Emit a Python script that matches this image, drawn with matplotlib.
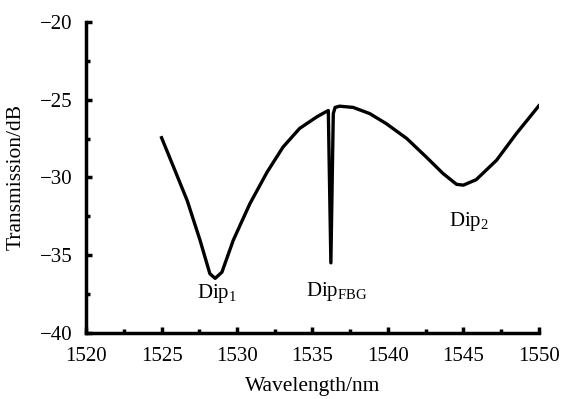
import numpy as np
import matplotlib
matplotlib.use("Agg")
import matplotlib.pyplot as plt
from matplotlib.ticker import MultipleLocator

# measured transmission spectrum
wavelength = [1525.0, 1525.8, 1526.7, 1527.55, 1528.2, 1528.55, 1529.0, 1529.75,
              1530.85, 1532.0, 1533.05, 1534.15, 1535.3, 1535.85, 1536.05,
              1536.22, 1536.38, 1536.5, 1536.8, 1537.7, 1538.8, 1539.9,
              1541.25, 1542.55, 1543.65, 1544.55, 1545.0, 1545.85, 1547.2,
              1548.5, 1550.0]
transmission = [-27.45, -29.35, -31.5, -34.05, -36.2, -36.5, -36.1, -34.05,
                -31.7, -29.65, -28.05, -26.85, -26.1, -25.8, -25.7,
                -35.5, -25.9, -25.5, -25.42, -25.5, -25.9, -26.55,
                -27.5, -28.7, -29.75, -30.45, -30.5, -30.15, -28.9,
                -27.2, -25.4]

dip_labels = ["Dip$_1$", "Dip$_{\\rm FBG}$", "Dip$_2$"]
dip_x = [1528.7, 1536.6, 1545.4]
dip_y = [-37.45, -37.35, -32.85]

plt.rcParams["font.family"] = ["Liberation Serif", "DejaVu Serif"]
plt.rcParams["mathtext.fontset"] = "custom"
plt.rcParams["mathtext.rm"] = "Liberation Serif"
plt.rcParams["mathtext.it"] = "Liberation Serif"

fig = plt.figure(figsize=(5.63, 3.99), dpi=100)
ax = fig.add_axes([0.153, 0.166, 0.804, 0.779])

ax.plot(wavelength, transmission, color="black", lw=2.4, solid_joinstyle="round")

for lab, x, y in zip(dip_labels, dip_x, dip_y):
    ax.text(x, y, lab, ha="center", va="center", fontsize=15)

ax.set_xlim(1520, 1550)
ax.set_ylim(-40, -20)
ax.xaxis.set_major_locator(MultipleLocator(5))
ax.xaxis.set_minor_locator(MultipleLocator(2.5))
ax.yaxis.set_major_locator(MultipleLocator(5))
ax.yaxis.set_minor_locator(MultipleLocator(2.5))

ax.spines["top"].set_visible(False)
ax.spines["right"].set_visible(False)
ax.spines["left"].set_linewidth(2.5)
ax.spines["bottom"].set_linewidth(2.5)
ax.tick_params(which="major", direction="in", length=4, width=2.5, labelsize=15)
ax.tick_params(axis="x", which="major", pad=10)
ax.tick_params(axis="y", which="major", pad=10)
ax.tick_params(which="minor", direction="in", length=3, width=2.5)

ax.set_xlabel("Wavelength/nm", fontsize=15.5, labelpad=8)
ax.set_ylabel("Transmission/dB", fontsize=15.5, labelpad=10)

fig.savefig("out.png", dpi=100)
